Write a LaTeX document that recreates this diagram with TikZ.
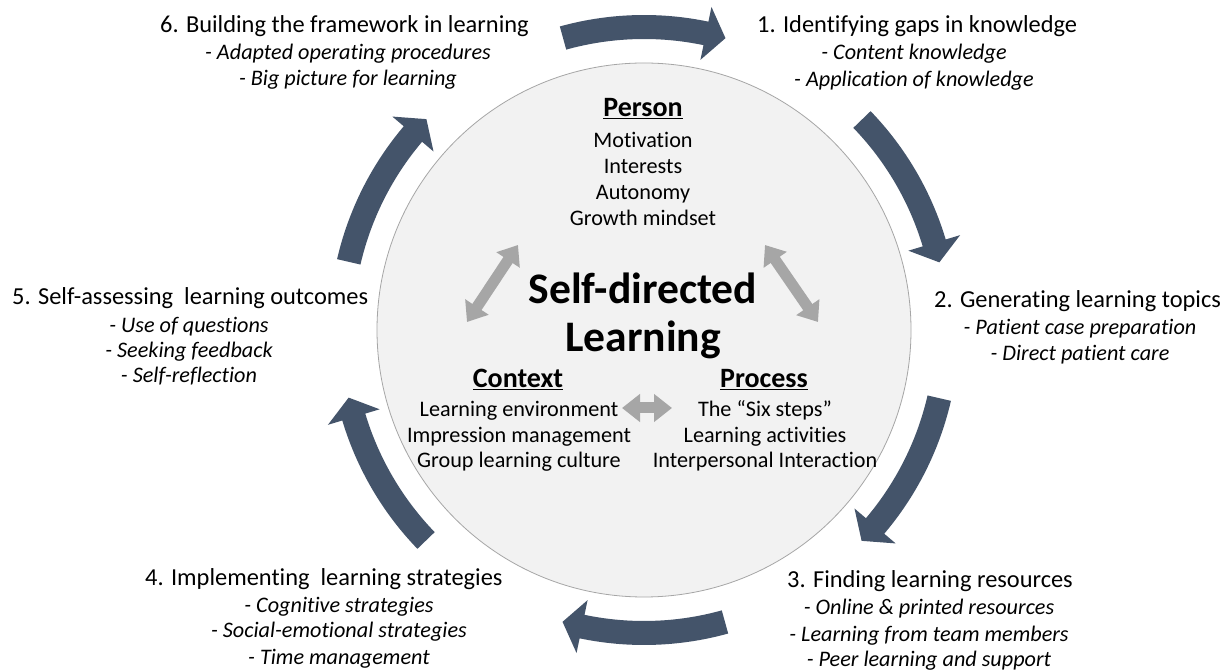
\documentclass[tikz,border=0pt]{standalone}
\usepackage{fontspec}
\setmainfont{Carlito}[Ligatures={NoCommon,NoRare}]
\usetikzlibrary{arrows.meta}
\definecolor{arrowblue}{HTML}{44546A}
\definecolor{circfill}{HTML}{F2F2F2}
\definecolor{circline}{HTML}{A6A6A6}
\definecolor{dblgray}{HTML}{A6A6A6}
\newcommand{\cycarr}[2]{% #1 = name, #2 = centre angle
  \fill[cycarrow] (#2+15.5:291pt) arc[start angle=#2+15.5, end angle=#2-11.8, radius=291pt]
    -- (#2-11.8:276pt) -- (#2-15.6:303pt) -- (#2-11.8:330pt) -- (#2-11.8:315pt)
    arc[start angle=#2-11.8, end angle=#2+15.5, radius=315pt] -- cycle;
  \coordinate (#1) at (#2:303pt);}
\begin{document}
\begin{tikzpicture}[x=1pt,y=1pt,
  lbl/.style={inner sep=0pt, anchor=base, font=\fontsize{22.2}{26}\selectfont, text=black},
  ttl/.style={inner sep=0pt, anchor=base west, font=\fontsize{24.4}{28}\selectfont, text=black},
  sub/.style={inner sep=0pt, anchor=base, font=\fontsize{22.2}{26}\selectfont\itshape, text=black},
  headtxt/.style={inner sep=0pt, anchor=base, font=\fontsize{28}{32}\selectfont\bfseries, text=black},
  bigtxt/.style={inner sep=0pt, anchor=base, font=\fontsize{43.6}{48}\selectfont\bfseries, text=black},
  cycarrow/.style={fill=arrowblue},
  link/.style={draw=dblgray, line width=11pt, {Triangle[length=18pt,width=27pt]}-{Triangle[length=18pt,width=27pt]}}
]
\useasboundingbox (0,0) rectangle (1232,672);
\fill[white] (0,0) rectangle (1232,672);

% central circle
\node[circle, minimum size=534pt, fill=circfill, draw=circline, line width=0.8pt, inner sep=0pt] (hub) at (644,342) {};

% cycle arrows
\begin{scope}[shift={(644,342)}]
  \cycarr{a1}{90}
  \cycarr{a2}{28.5}
  \cycarr{a3}{-28.5}
  \cycarr{a4}{-90}
  \cycarr{a5}{-151.5}
  \cycarr{a6}{151.5}
\end{scope}

% Person
\node[headtxt] (person) at (643,555) {\underline{Person}};
\node[lbl] (p1) at (643,524) {Motivation};
\node[lbl] (p2) at (643,498) {Interests};
\node[lbl] (p3) at (643,472) {Autonomy};
\node[lbl] (p4) at (643,446) {Growth mindset};

% title
\node[bigtxt] (sdl1) at (643,368) {Self-directed};
\node[bigtxt] (sdl2) at (643,320) {Learning};

% Context
\node[headtxt] (context) at (518,284) {\underline{Context}};
\node[lbl] (c1) at (519,255) {Learning environment};
\node[lbl] (c2) at (519,229) {Impression management};
\node[lbl] (c3) at (519,204) {Group learning culture};

% Process
\node[headtxt] (process) at (764,284) {\underline{Process}};
\node[lbl] (r1) at (765,255) {The “Six steps”};
\node[lbl] (r2) at (765,229) {Learning activities};
\node[lbl] (r3) at (765,204) {Interpersonal Interaction};

% grey double arrows
\coordinate (lA) at (467,350); \coordinate (lB) at (518,427);
\coordinate (rA) at (765,427); \coordinate (rB) at (818,350);
\coordinate (bA) at (622,264); \coordinate (bB) at (672,264);
\draw[link] (lA) -- (lB);
\draw[link] (rA) -- (rB);
\draw[link] (bA) -- (bB);

% step 1
\node[ttl] (g1) at (757,639) {1. Identifying gaps in knowledge};
\node[sub] (g1a) at (914,612) {- Content knowledge};
\node[sub] (g1b) at (914,585) {- Application of knowledge};

% step 2
\node[ttl] (g2) at (934,364) {2. Generating learning topics};
\node[sub] (g2a) at (1080,337) {- Patient case preparation};
\node[sub] (g2b) at (1080,311) {- Direct patient care};

% step 3
\node[ttl] (g3) at (787,84) {3. Finding learning resources};
\node[sub] (g3a) at (929,57) {- Online \& printed resources};
\node[sub] (g3b) at (929,30) {- Learning from team members};
\node[sub] (g3c) at (929,5) {- Peer learning and support};

% step 4
\node[ttl] (g4) at (145,86) {4. Implementing\ \ learning strategies};
\node[sub] (g4a) at (339,59) {- Cognitive strategies};
\node[sub] (g4b) at (339,34) {- Social-emotional strategies};
\node[sub] (g4c) at (339,7) {- Time management};

% step 5
\node[ttl] (g5) at (12,367) {5. Self-assessing\ \ learning outcomes};
\node[sub] (g5a) at (189,339) {- Use of questions};
\node[sub] (g5b) at (189,314) {- Seeking feedback};
\node[sub] (g5c) at (189,289) {- Self-reflection};

% step 6
\node[ttl] (g6) at (160,639) {6. Building the framework in learning};
\node[sub] (g6a) at (348,612) {- Adapted operating procedures};
\node[sub] (g6b) at (348,586) {- Big picture for learning};
\end{tikzpicture}
\end{document}
